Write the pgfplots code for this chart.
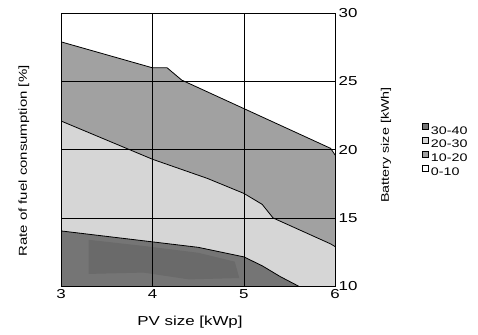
\documentclass[border=0pt]{standalone}
\usepackage{fontspec}
\setmainfont[FakeStretch=1.3]{Liberation Sans}
\usepackage{pgfplots}
\pgfplotsset{compat=1.18}
\definecolor{cA}{gray}{0.63}
\definecolor{cB}{gray}{0.84}
\definecolor{cC}{gray}{0.46}
\definecolor{cD}{gray}{0.415}
\begin{document}
\begin{tikzpicture}[x=1pt,y=1pt]
\useasboundingbox (0,0) rectangle (478,334);
\begin{axis}[at={(67,35)}, anchor=south west, scale only axis,
  width=274pt, height=273pt,
  xmin=3, xmax=6, ymin=10, ymax=30,
  xtick={3,4,5,6}, ytick={10,15,20,25,30},
  yticklabel pos=right,
  major tick length=0pt,
  grid=major, grid style={black, line width=0.6pt},
  axis line style={black, line width=0.6pt},
  axis on top,
  /pgf/number format/assume math mode=true,
  tick label style={font=\fontsize{13}{15}\selectfont},
  legend style={at={(1.3164,0.597)}, anchor=north west, draw=none, fill=none,
    inner sep=0pt, row sep=3pt, column sep=2.5pt,
    nodes={inner sep=0pt, text height=7.5pt, text depth=0pt, font=\fontsize{11}{12}\selectfont}},
  legend cell align=left,
  legend image code/.code={\draw[#1, draw=black, line width=0.4pt] (0pt,0.75pt) rectangle (6pt,6.75pt);},
]
% 10-20 region (and all below)
\addplot[fill=cA, draw=none, forget plot] coordinates {(3,10) (3,27.9) (4,26.0) (4.16,26.0) (4.32,25.1) (5.95,20.1) (6,19.6) (6,10)} -- cycle;
% 20-30 region
\addplot[fill=cB, draw=none, forget plot] coordinates {(3,10) (3,22.1) (4,19.3) (4.6,17.9) (5,16.8) (5.2,16.0) (5.32,15.0) (5.95,13.1) (6,12.9) (6,10)} -- cycle;
% 30-40 region
\addplot[fill=cC, draw=none, forget plot] coordinates {(3,10) (3,14.05) (3.5,13.65) (4,13.25) (4.5,12.85) (5,12.15) (5.2,11.5) (5.4,10.7) (5.6,10)} -- cycle;
% darker patch inside 30-40
\addplot[fill=cD, draw=none, forget plot] coordinates {(3.3,13.4) (3.9,12.95) (4.5,12.45) (4.9,11.8) (4.95,10.6) (4.4,10.5) (3.9,11.0) (3.3,10.9)} -- cycle;
% boundary lines
\addplot[black, line width=0.8pt, forget plot] coordinates {(3,27.9) (4,26.0) (4.16,26.0) (4.32,25.1) (5.95,20.1) (6,19.6)};
\addplot[black, line width=0.8pt, forget plot] coordinates {(3,22.1) (4,19.3) (4.6,17.9) (5,16.8) (5.2,16.0) (5.32,15.0) (5.95,13.1) (6,12.9)};
\addplot[black, line width=0.8pt, forget plot] coordinates {(3,14.05) (3.5,13.65) (4,13.25) (4.5,12.85) (5,12.15) (5.2,11.5) (5.4,10.7) (5.6,10)};
\addlegendimage{fill=cC}
\addlegendentry{30-40}
\addlegendimage{fill=cB}
\addlegendentry{20-30}
\addlegendimage{fill=cA}
\addlegendentry{10-20}
\addlegendimage{fill=white}
\addlegendentry{0-10}
\end{axis}
\node[rotate=90, font=\fontsize{11.5}{13}\selectfont] at (24,173) {Rate of fuel consumption [\%]};
\node[rotate=90, font=\fontsize{11}{12}\selectfont] at (386,189) {Battery size [kWh]};
\node[font=\fontsize{13}{14}\selectfont] at (190,11.5) {PV size [kWp]};
\end{tikzpicture}
\end{document}
